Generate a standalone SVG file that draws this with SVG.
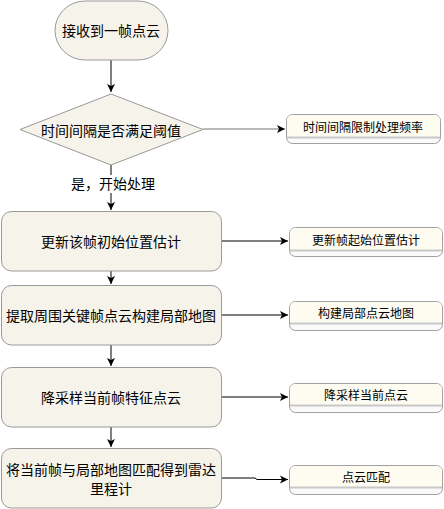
<svg xmlns="http://www.w3.org/2000/svg" width="444" height="509" viewBox="0 0 444 509">
<defs>
<style>
.n{fill:#f5f3ea;stroke:#999;stroke-width:1}
.t{font-family:"Noto Sans CJK SC","Liberation Sans",sans-serif;font-size:14px;fill:#000;text-anchor:middle;dominant-baseline:central}
.s{font-family:"Noto Sans CJK SC","Liberation Sans",sans-serif;font-size:12px;fill:#000;text-anchor:middle;dominant-baseline:central}
.b{fill:#fafafa;stroke:#a0a0a0;stroke-width:1}
.h{fill:#fefcf1}
.d{stroke:#c8c8c8;stroke-width:2}
.c{fill:none;stroke:#000;stroke-width:1}
</style>
<marker id="a" markerWidth="10" markerHeight="10" refX="8" refY="5" orient="auto" markerUnits="userSpaceOnUse">
<path d="M0,1 L8,5 L0,9 L2,5 Z" fill="#000"/>
</marker>
</defs>
<g id="connectors">
<line class="c" x1="111" y1="60" x2="111" y2="92" marker-end="url(#a)"/>
<line class="c" x1="203" y1="129" x2="285" y2="129" stroke="#777" marker-end="url(#a)" style="stroke:#777"/>
<line class="c" x1="111" y1="165" x2="111" y2="210" marker-end="url(#a)"/>
<line class="c" x1="222" y1="241" x2="288" y2="241" marker-end="url(#a)"/>
<line class="c" x1="111" y1="271" x2="111" y2="284" marker-end="url(#a)"/>
<line class="c" x1="222" y1="315" x2="288" y2="315" marker-end="url(#a)"/>
<line class="c" x1="111" y1="345" x2="111" y2="366" marker-end="url(#a)"/>
<line class="c" x1="222" y1="397" x2="288" y2="397" marker-end="url(#a)"/>
<line class="c" x1="111" y1="427" x2="111" y2="447" marker-end="url(#a)"/>
<polyline class="c" points="222,478 255,478 257,479.5 288,479.5" marker-end="url(#a)"/>
<rect x="70" y="175" width="88" height="18" fill="#fff"/>
<text class="t" x="113" y="183">是，开始处理</text>
</g>
<g id="start">
<rect class="n" x="55" y="1" width="113" height="59" rx="30" ry="29.5"/>
<text class="t" x="111" y="30">接收到一帧点云</text>
</g>
<g id="decision">
<path class="n" d="M111,94 L203,129.5 L111,165 L20,129.5 Z" stroke-linejoin="round"/>
<text class="t" x="111" y="130">时间间隔是否满足阈值</text>
</g>
<g id="p1">
<rect class="n" x="1.5" y="211.5" width="220" height="59.5" rx="10"/>
<text class="t" x="111" y="241">更新该帧初始位置估计</text>
</g>
<g id="p2">
<rect class="n" x="1.5" y="285.5" width="220" height="59.5" rx="10"/>
<text class="t" x="111" y="315">提取周围关键帧点云构建局部地图</text>
</g>
<g id="p3">
<rect class="n" x="1.5" y="367.5" width="220" height="59.5" rx="10"/>
<text class="t" x="111" y="397">降采样当前帧特征点云</text>
</g>
<g id="p4">
<rect class="n" x="1.5" y="448.5" width="220" height="59.5" rx="10"/>
<text class="t" x="111" y="469">将当前帧与局部地图匹配得到雷达</text>
<text class="t" x="111" y="488">里程计</text>
</g>
<g id="n1">
<rect class="b" x="286.5" y="114.5" width="154" height="29" rx="6"/>
<path class="h" d="M287,137 V120.5 Q287,115 293,115 H434 Q440,115 440,120.5 V137 Z"/>
<line class="d" x1="287" y1="137.5" x2="440" y2="137.5"/>
<text class="s" x="363" y="126">时间间隔限制处理频率</text>
</g>
<g id="n2">
<rect class="b" x="289.5" y="227.5" width="153" height="29" rx="6"/>
<path class="h" d="M290,250 V233.5 Q290,228 296,228 H436 Q442,228 442,233.5 V250 Z"/>
<line class="d" x1="290" y1="250.5" x2="442" y2="250.5"/>
<text class="s" x="366" y="239">更新帧起始位置估计</text>
</g>
<g id="n3">
<rect class="b" x="289.5" y="301.5" width="153" height="29" rx="6"/>
<path class="h" d="M290,323 V307.5 Q290,302 296,302 H436 Q442,302 442,307.5 V323 Z"/>
<line class="d" x1="290" y1="323.5" x2="442" y2="323.5"/>
<text class="s" x="366" y="312">构建局部点云地图</text>
</g>
<g id="n4">
<rect class="b" x="289.5" y="383.5" width="153" height="29" rx="6"/>
<path class="h" d="M290,405 V389.5 Q290,384 296,384 H436 Q442,384 442,389.5 V405 Z"/>
<line class="d" x1="290" y1="405.5" x2="442" y2="405.5"/>
<text class="s" x="366" y="394">降采样当前点云</text>
</g>
<g id="n5">
<rect class="b" x="289.5" y="465.5" width="153" height="29" rx="6"/>
<path class="h" d="M290,487 V471.5 Q290,466 296,466 H436 Q442,466 442,471.5 V487 Z"/>
<line class="d" x1="290" y1="487.5" x2="442" y2="487.5"/>
<text class="s" x="366" y="476">点云匹配</text>
</g>
</svg>
